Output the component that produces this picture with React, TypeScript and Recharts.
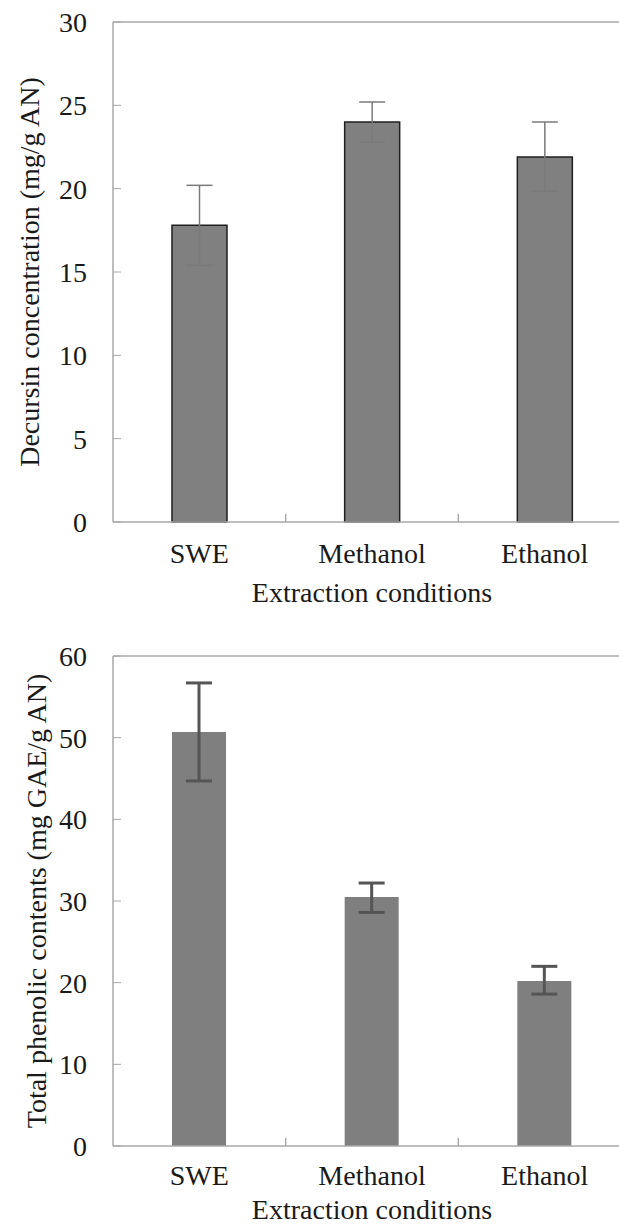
import React from 'react';
import {
  BarChart,
  Bar,
  XAxis,
  YAxis,
  ErrorBar,
  ReferenceLine,
  Label
} from 'recharts';

// extraction methods on the x axis
const categories = ['SWE', 'Methanol', 'Ethanol'];

// decursin concentration (mg/g AN) with error bars
const decursin = [17.8, 24.0, 21.9];
const decursinErrLow = [2.4, 1.2, 2.05];
const decursinErrHigh = [2.4, 1.2, 2.1];

// total phenolic contents (mg GAE/g AN)
const phenolic = [50.7, 30.5, 20.2];
const phenolicErrLow = [6.0, 1.9, 1.6];
const phenolicErrHigh = [6.0, 1.7, 1.8];

const decursinTicks = [0, 5, 10, 15, 20, 25, 30];
const phenolicTicks = [0, 10, 20, 30, 40, 50, 60];

const decursinData = categories.map((name, i) => ({
  name,
  value: decursin[i],
  err: [decursinErrLow[i], decursinErrHigh[i]]
}));

const phenolicData = categories.map((name, i) => ({
  name,
  value: phenolic[i],
  err: [phenolicErrLow[i], phenolicErrHigh[i]]
}));

const FONT = '"Liberation Serif", "Times New Roman", serif';
const AXIS = '#a8a8a8';
const textStyle = { fontFamily: FONT, fontSize: 28, fill: '#1a1a1a' };

// category label plus a short inside tick on the left boundary of the band
const makeCategoryTick = (margin: number) => (props: any) => {
  const { x, y, payload, index } = props;
  const half = payload?.offset ?? 0;
  const axisY = y - margin;
  return (
    <g>
      {index > 0 && (
        <line x1={x - half} x2={x - half} y1={axisY} y2={axisY - 8} stroke={AXIS} strokeWidth={1.5} />
      )}
      <text x={x} y={y} dy="0.71em" textAnchor="middle" style={textStyle}>
        {payload.value}
      </text>
    </g>
  );
};

const App: React.FC = () => {
  return (
    <div style={{
      position: 'absolute',
      left: 0,
      top: 0,
      width: 619,
      height: 1226,
      overflow: 'hidden',
      background: '#fff'
    }}>
      {/* Decursin chart */}
      <div style={{ position: 'absolute', left: 0, top: 0 }}>
        <BarChart
          width={640}
          height={610}
          data={decursinData}
          margin={{ top: 22, right: 9, bottom: 4, left: 0 }}
        >
          <XAxis
            dataKey="name"
            axisLine={{ stroke: AXIS, strokeWidth: 1.5 }}
            tickLine={false}
            tickSize={0}
            tickMargin={21}
            height={84}
            tick={makeCategoryTick(21)}
          >
            <Label value="Extraction conditions" position="insideBottom" offset={4} style={textStyle} />
          </XAxis>
          <YAxis
            domain={[0, 30]}
            ticks={decursinTicks}
            width={113}
            axisLine={{ stroke: AXIS, strokeWidth: 1.5 }}
            tickLine={{ stroke: AXIS }}
            tickSize={-8}
            tickMargin={34}
            tick={textStyle}
          >
            <Label
              value="Decursin concentration (mg/g AN)"
              angle={-90}
              position="insideLeft"
              offset={29}
              style={{ ...textStyle, textAnchor: 'middle' }}
            />
          </YAxis>
          <ReferenceLine y={30} stroke={AXIS} strokeWidth={1.5} />
          <Bar
            dataKey="value"
            fill="#808080"
            stroke="#1f1f1f"
            strokeWidth={1.5}
            barSize={55}
            isAnimationActive={false}
          >
            <ErrorBar dataKey="err" direction="y" width={13} stroke="#7a7a7a" strokeWidth={1.5} />
          </Bar>
        </BarChart>
      </div>

      {/* Total phenolic chart */}
      <div style={{ position: 'absolute', left: 0, top: 610 }}>
        <BarChart
          width={640}
          height={620}
          data={phenolicData}
          margin={{ top: 46, right: 9, bottom: 0, left: 0 }}
        >
          <XAxis
            dataKey="name"
            axisLine={{ stroke: AXIS, strokeWidth: 1.5 }}
            tickLine={false}
            tickSize={0}
            tickMargin={19}
            height={84}
            tick={makeCategoryTick(19)}
          >
            <Label value="Extraction conditions" position="insideBottom" offset={11} style={textStyle} />
          </XAxis>
          <YAxis
            domain={[0, 60]}
            ticks={phenolicTicks}
            width={113}
            axisLine={{ stroke: AXIS, strokeWidth: 1.5 }}
            tickLine={{ stroke: AXIS }}
            tickSize={-8}
            tickMargin={34}
            tick={textStyle}
          >
            <Label
              value="Total phenolic contents (mg GAE/g AN)"
              angle={-90}
              position="insideLeft"
              offset={28}
              dx={8}
              style={{ ...textStyle, textAnchor: 'middle' }}
            />
          </YAxis>
          <ReferenceLine y={60} stroke={AXIS} strokeWidth={1.5} />
          <Bar
            dataKey="value"
            fill="#7f7f7f"
            barSize={54}
            isAnimationActive={false}
          >
            <ErrorBar dataKey="err" direction="y" width={13} stroke="#555555" strokeWidth={3} />
          </Bar>
        </BarChart>
      </div>
    </div>
  );
};

export default App;
